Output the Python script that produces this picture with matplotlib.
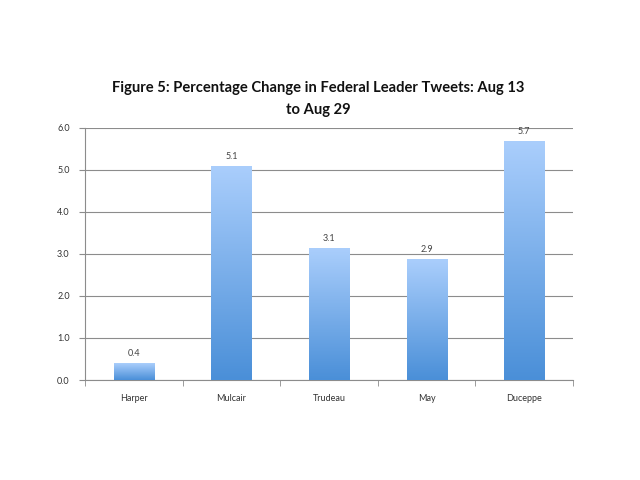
import matplotlib
matplotlib.use("Agg")
import matplotlib.pyplot as plt
import numpy as np
from matplotlib.colors import LinearSegmentedColormap

leaders = ["Harper", "Mulcair", "Trudeau", "May", "Duceppe"]
pct_change = [0.4, 5.07, 3.13, 2.86, 5.66]
value_labels = ["0.4", "5.1", "3.1", "2.9", "5.7"]
y_ticks = [0.0, 1.0, 2.0, 3.0, 4.0, 5.0, 6.0]

plt.rcParams['font.family'] = ['Lato', 'DejaVu Sans']

fig = plt.figure(figsize=(6.4, 4.8), dpi=100)
ax = fig.add_axes([85/640, 1-380/480, (573-85)/640, (380-127.5)/480])

x = np.arange(len(leaders))
bars = ax.bar(x, pct_change, width=0.41, facecolor='none', edgecolor='none', zorder=3)

cmap = LinearSegmentedColormap.from_list("grad", ["#4a8fd8", "#aacefc"])
grad = np.linspace(0, 1, 256).reshape(-1, 1)
for rect in bars:
    x0, y0 = rect.get_x(), rect.get_y()
    w, h = rect.get_width(), rect.get_height()
    ax.imshow(grad, cmap=cmap, origin='lower', aspect='auto',
              extent=[x0, x0 + w, y0, y0 + h], zorder=3)

for xi, v, lab in zip(x, pct_change, value_labels):
    ax.annotate(lab, (xi, v), xytext=(0, 4), textcoords='offset points',
                ha='center', va='bottom', fontsize=6.5, color='#444444')

ax.set_xlim(-0.5, len(leaders) - 0.5)
ax.set_ylim(0, 6.0)
ax.set_yticks(y_ticks)
ax.set_yticklabels([f"{t:.1f}" for t in y_ticks])
ax.yaxis.grid(True, color='#8c8c8c', linewidth=0.8, zorder=0)
ax.set_axisbelow(True)

ax.set_xticks(x)
ax.set_xticklabels(leaders)
ax.set_xticks(np.arange(-0.5, len(leaders), 1.0), minor=True)
ax.tick_params(axis='x', which='major', length=0, pad=10, labelsize=6.5, labelcolor='#333333')
ax.tick_params(axis='x', which='minor', length=4, direction='out', color='#8c8c8c')
ax.tick_params(axis='y', length=4, direction='out', color='#8c8c8c', labelsize=6.5, labelcolor='#333333', pad=7)

for s in ['top', 'right']:
    ax.spines[s].set_visible(False)
for s in ['left', 'bottom']:
    ax.spines[s].set_color('#8c8c8c')
    ax.spines[s].set_linewidth(0.8)

fig.text(0.497, 1-88/480, "Figure 5: Percentage Change in Federal Leader Tweets: Aug 13",
         ha='center', va='center', fontsize=10.65, fontweight='bold', color='#111111')
fig.text(0.497, 1-110/480, "to Aug 29",
         ha='center', va='center', fontsize=10.65, fontweight='bold', color='#111111')

fig.savefig("out.png", dpi=100, facecolor='white')
